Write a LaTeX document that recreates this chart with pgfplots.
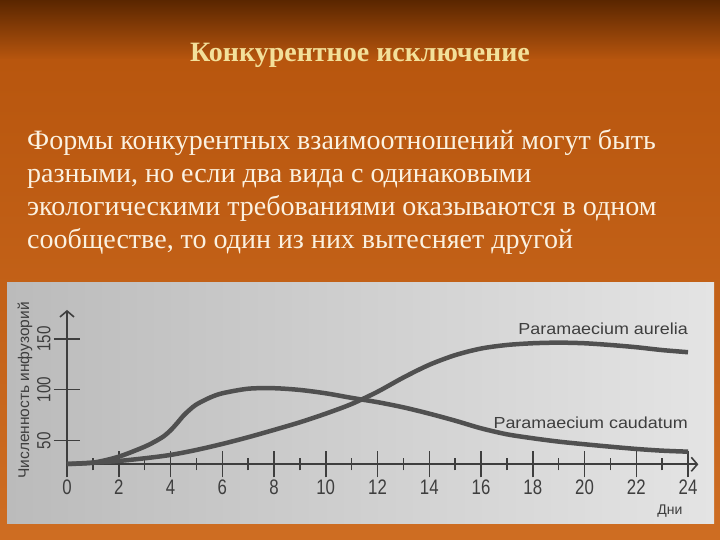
\documentclass[border=0pt]{standalone}
\usepackage{fontspec}
\setmainfont{Liberation Serif}
\newfontfamily\chartfont{Liberation Sans}
\newfontfamily\condfont[FakeStretch=0.8]{Liberation Sans}
\newfontfamily\widefont[FakeStretch=1.12]{Liberation Sans}
\usepackage{pgfplots}
\pgfplotsset{compat=1.18}
\usetikzlibrary{arrows.meta}
\definecolor{bgA}{HTML}{5A2600}
\definecolor{bgB}{HTML}{B8560E}
\definecolor{bgC}{HTML}{CE6D22}
\definecolor{grayA}{HTML}{BBBBBB}
\definecolor{grayB}{HTML}{E4E4E4}
\definecolor{curvegray}{HTML}{505050}
\definecolor{axisgray}{HTML}{3E3E3E}
\definecolor{titlecol}{HTML}{F3E09A}
\definecolor{bodycol}{HTML}{FBF1E0}
\begin{document}
\begin{tikzpicture}[x=1pt,y=1pt]
\shade[top color=bgA, bottom color=bgB] (0,480) rectangle (720,540);
\shade[top color=bgB, bottom color=bgC] (0,0) rectangle (720,480.5);
\node[text=titlecol, anchor=base, inner sep=0pt, font=\bfseries\fontsize{28}{32}\selectfont] at (360,478.5) {Конкурентное исключение};
\begin{scope}[every node/.style={text=bodycol, anchor=base west, inner sep=0pt, font=\fontsize{28}{33}\selectfont}]
\node at (27,390.7) {Формы конкурентных взаимоотношений могут быть};
\node at (27,357.7) {разными, но если два вида с одинаковыми};
\node at (27,324.7) {экологическими требованиями оказываются в одном};
\node at (27,291.7) {сообществе, то один из них вытесняет другой};
\end{scope}
\shade[left color=grayA, right color=grayB] (7,16) rectangle (714,257);
\begin{axis}[
  at={(67pt,75.7pt)}, anchor=south west, scale only axis,
  width=631.35pt, height=154.4pt,
  xmin=0, xmax=24.4, ymin=26.7, ymax=178.5,
  axis lines=left, clip=false,
  axis line style={line width=1.6pt, draw=axisgray, -{Straight Barb[length=6pt,width=14pt,line width=1.6pt]}},
  xtick={0,2,...,24}, minor xtick={1,3,...,23},
  ytick={50,100,150},
  tick align=center, major tick length=26pt, minor tick length=12pt,
  major tick style={line width=1.5pt, draw=axisgray},
  minor tick style={line width=1.3pt, draw=axisgray},
  /pgf/number format/assume math mode=true,
  xticklabel style={font=\condfont\fontsize{21}{21}\selectfont, text=axisgray, yshift=1pt},
  yticklabel style={font=\condfont\fontsize{19}{19}\selectfont, text=axisgray, rotate=90, anchor=south},
]
\addplot[smooth, line width=4.5pt, color=curvegray] coordinates {
(0,27) (1,28.3) (2,30) (3,32.6) (4,35.9) (5,40.8) (6,46.7) (7,53.3) (8,60.5) (9,68) (10,76.5) (11,86) (12,98) (13,112) (14,124.5) (15,134) (16,140.5) (17,144) (18,145.7) (19,146.3) (20,145.7) (21,144) (22,141.8) (23,139) (24,136.9)};
\addplot[smooth, line width=4.5pt, color=curvegray] coordinates {
(0,27) (1,28.3) (2,34.2) (3,44) (3.5,50.5) (3.75,54.5) (4,60) (4.25,67) (4.5,74.5) (4.75,80.5) (5,85.5) (5.5,92) (6,96.5) (7,101) (8,101.5) (9,99.8) (10,96.5) (11,92) (12,87.8) (13,82.7) (14,76.5) (15,69.6) (16,62.1) (17,56.2) (18,52.3) (19,49) (20,46.4) (21,44) (22,41.8) (23,40.1) (24,39.1)};
\node[anchor=base east, inner sep=0pt, font=\widefont\fontsize{16}{16}\selectfont, text=axisgray] at (axis cs:24,153.9) {Paramaecium aurelia};
\node[anchor=base east, inner sep=0pt, font=\widefont\fontsize{16}{16}\selectfont, text=axisgray] at (axis cs:24,62.1) {Paramaecium caudatum};
\node[font=\chartfont\fontsize{14}{14}\selectfont, text=axisgray] at (axis cs:23.3,-19) {Дни};
\end{axis}
\node[rotate=90, font=\chartfont\fontsize{15.5}{15.5}\selectfont, text=axisgray] at (25,149.5) {Численность инфузорий};
\end{tikzpicture}
\end{document}
